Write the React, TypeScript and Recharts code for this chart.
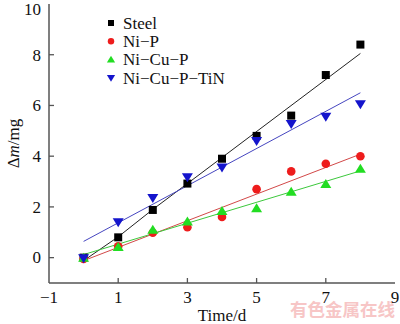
import { ComposedChart, Line, Scatter, XAxis, YAxis, Legend } from 'recharts'

// measured days and mass gain (mg)
const days = [0, 1, 2, 3, 4, 5, 6, 7, 8]
const steel = [0, 0.8, 1.88, 2.92, 3.9, 4.8, 5.6, 7.2, 8.4]
const niP = [-0.05, 0.45, 0.98, 1.2, 1.6, 2.7, 3.4, 3.7, 4.0]
const niCuP = [0, 0.42, 1.1, 1.42, 1.84, 1.95, 2.6, 2.9, 3.5]
const niCuPTiN = [-0.02, 1.4, 2.35, 3.17, 3.55, 4.6, 5.27, 5.55, 6.05]

// fitted lines
const steelFitX = [0, 1, 2, 3, 8]
const steelFitY = [-0.12, 0.82, 1.9, 2.92, 8.05]
const niPFitX = [0, 8]
const niPFitY = [-0.12, 4.08]
const niCuPFitX = [0, 8]
const niCuPFitY = [0.12, 3.42]
const tinFitX = [0, 8]
const tinFitY = [0.64, 6.5]

const xTicks = [-1, 1, 3, 5, 7, 9]
const yTicks = [0, 2, 4, 6, 8, 10]

const seriesNames = ['Steel', 'Ni\u2212P', 'Ni\u2212Cu\u2212P', 'Ni\u2212Cu\u2212P\u2212TiN']
const colors = ['#000000', '#ee1c1c', '#22dd22', '#1414cc']
const fitColors = ['#222222', '#d24848', '#3cc83c', '#4646c0']

const toPts = (xs: number[], ys: number[]) => xs.map((x, i) => ({ x, y: ys[i] }))

const pointSets = [steel, niP, niCuP, niCuPTiN].map((ys) => toPts(days, ys))
const fitSets = [
  toPts(steelFitX, steelFitY),
  toPts(niPFitX, niPFitY),
  toPts(niCuPFitX, niCuPFitY),
  toPts(tinFitX, tinFitY),
]

const FONT = 'Liberation Serif, Times New Roman, serif'
const AXIS = '#555555'
const TICK_MARGIN = 7

const Marker = ({ kind, cx, cy, color, s = 1 }: { kind: number; cx: number; cy: number; color: string; s?: number }) => {
  if (kind === 0) return <rect x={cx - 4 * s} y={cy - 4 * s} width={8 * s} height={8 * s} fill={color} />
  if (kind === 1) return <circle cx={cx} cy={cy} r={4.3 * s} fill={color} />
  if (kind === 2)
    return (
      <polygon
        points={`${cx},${cy - 5 * s} ${cx + 5.5 * s},${cy + 4 * s} ${cx - 5.5 * s},${cy + 4 * s}`}
        fill={color}
      />
    )
  return (
    <polygon
      points={`${cx},${cy + 5 * s} ${cx + 5.5 * s},${cy - 4 * s} ${cx - 5.5 * s},${cy - 4 * s}`}
      fill={color}
    />
  )
}

const fmt = (v: number) => (v < 0 ? '\u2212' + Math.abs(v) : String(v))

const XTick = (props: any) => {
  const { x, y, payload } = props
  const axisY = y - TICK_MARGIN
  const inner = payload.value > -1 && payload.value < 9
  return (
    <g>
      {inner && <line x1={x} x2={x} y1={axisY} y2={axisY - 5} stroke={AXIS} strokeWidth={1.3} />}
      <text x={x} y={y} dy="0.75em" textAnchor="middle" fontFamily={FONT} fontSize={17} fill="#111">
        {fmt(payload.value)}
      </text>
    </g>
  )
}

const YTick = (props: any) => {
  const { x, y, payload } = props
  const axisX = x + TICK_MARGIN
  const inner = payload.value < 10
  return (
    <g>
      {inner && <line x1={axisX} x2={axisX + 5} y1={y} y2={y} stroke={AXIS} strokeWidth={1.3} />}
      <text x={x - 1} y={y} dy="0.34em" textAnchor="end" fontFamily={FONT} fontSize={17} fill="#111">
        {fmt(payload.value)}
      </text>
    </g>
  )
}

const YLabel = (props: any) => {
  const { viewBox } = props
  const cy = viewBox.y + viewBox.height / 2
  const cx = 13
  return (
    <text
      x={cx}
      y={cy}
      transform={`rotate(-90 ${cx} ${cy})`}
      textAnchor="middle"
      dy="0.34em"
      fontFamily={FONT}
      fontSize={17}
      fill="#111"
    >
      {'\u0394'}
      <tspan fontStyle="italic">m</tspan>
      /mg
    </text>
  )
}

const LegendBox = () => (
  <svg width={200} height={76} style={{ display: 'block' }}>
    {seriesNames.map((name, i) => (
      <g key={name}>
        <Marker kind={i} cx={6} cy={10 + i * 18.3} color={colors[i]} s={0.75} />
        <text x={18} y={10 + i * 18.3} dy="0.34em" fontFamily={FONT} fontSize={17} fill="#111">
          {name}
        </text>
      </g>
    ))}
  </svg>
)

export default function App() {
  return (
    <div style={{ position: 'absolute', left: 0, top: 0, width: 400, height: 324, background: '#fff' }}>
      <ComposedChart width={400} height={324} margin={{ top: 4, right: 5, left: 0, bottom: 0 }}>
        <XAxis
          dataKey="x"
          type="number"
          domain={[-1, 9]}
          ticks={xTicks}
          height={41}
          tickSize={0}
          tickMargin={TICK_MARGIN}
          tick={<XTick />}
          axisLine={{ stroke: AXIS, strokeWidth: 1.5 }}
          tickLine={false}
          label={{
            value: 'Time/d',
            position: 'insideBottom',
            offset: 3,
            style: { fontFamily: FONT, fontSize: 17, fill: '#111' },
          }}
        />
        <XAxis
          xAxisId="top"
          orientation="top"
          type="number"
          domain={[-1, 9]}
          height={0}
          tick={false}
          tickLine={false}
          axisLine={{ stroke: AXIS, strokeWidth: 1.5 }}
        />
        <YAxis
          dataKey="y"
          type="number"
          domain={[-1, 10]}
          ticks={yTicks}
          width={49}
          tickSize={0}
          tickMargin={TICK_MARGIN}
          tick={<YTick />}
          axisLine={{ stroke: AXIS, strokeWidth: 1.5 }}
          tickLine={false}
          label={<YLabel />}
        />
        <YAxis
          yAxisId="right"
          orientation="right"
          type="number"
          domain={[-1, 10]}
          width={0}
          tick={false}
          tickLine={false}
          axisLine={{ stroke: AXIS, strokeWidth: 1.5 }}
        />
        {fitSets.map((d, i) => (
          <Line
            key={'fit' + i}
            data={d}
            dataKey="y"
            type="linear"
            stroke={fitColors[i]}
            strokeWidth={1}
            dot={false}
            activeDot={false}
            legendType="none"
            isAnimationActive={false}
          />
        ))}
        {pointSets.map((d, i) => (
          <Scatter
            key={seriesNames[i]}
            name={seriesNames[i]}
            data={d}
            fill={colors[i]}
            shape={(p: any) => <Marker kind={i} cx={p.cx} cy={p.cy} color={colors[i]} />}
            isAnimationActive={false}
          />
        ))}
        <Legend
          layout="vertical"
          align="center"
          verticalAlign="middle"
          content={<LegendBox />}
          wrapperStyle={{ left: 105, top: 13, width: 200 }}
        />
        <text
          x={395}
          y={316}
          textAnchor="end"
          fontFamily="Noto Sans CJK SC, sans-serif"
          fontWeight={700}
          fontSize={17.5}
          fill="#f7c6c6"
        >
          有色金属在线
        </text>
      </ComposedChart>
    </div>
  )
}
